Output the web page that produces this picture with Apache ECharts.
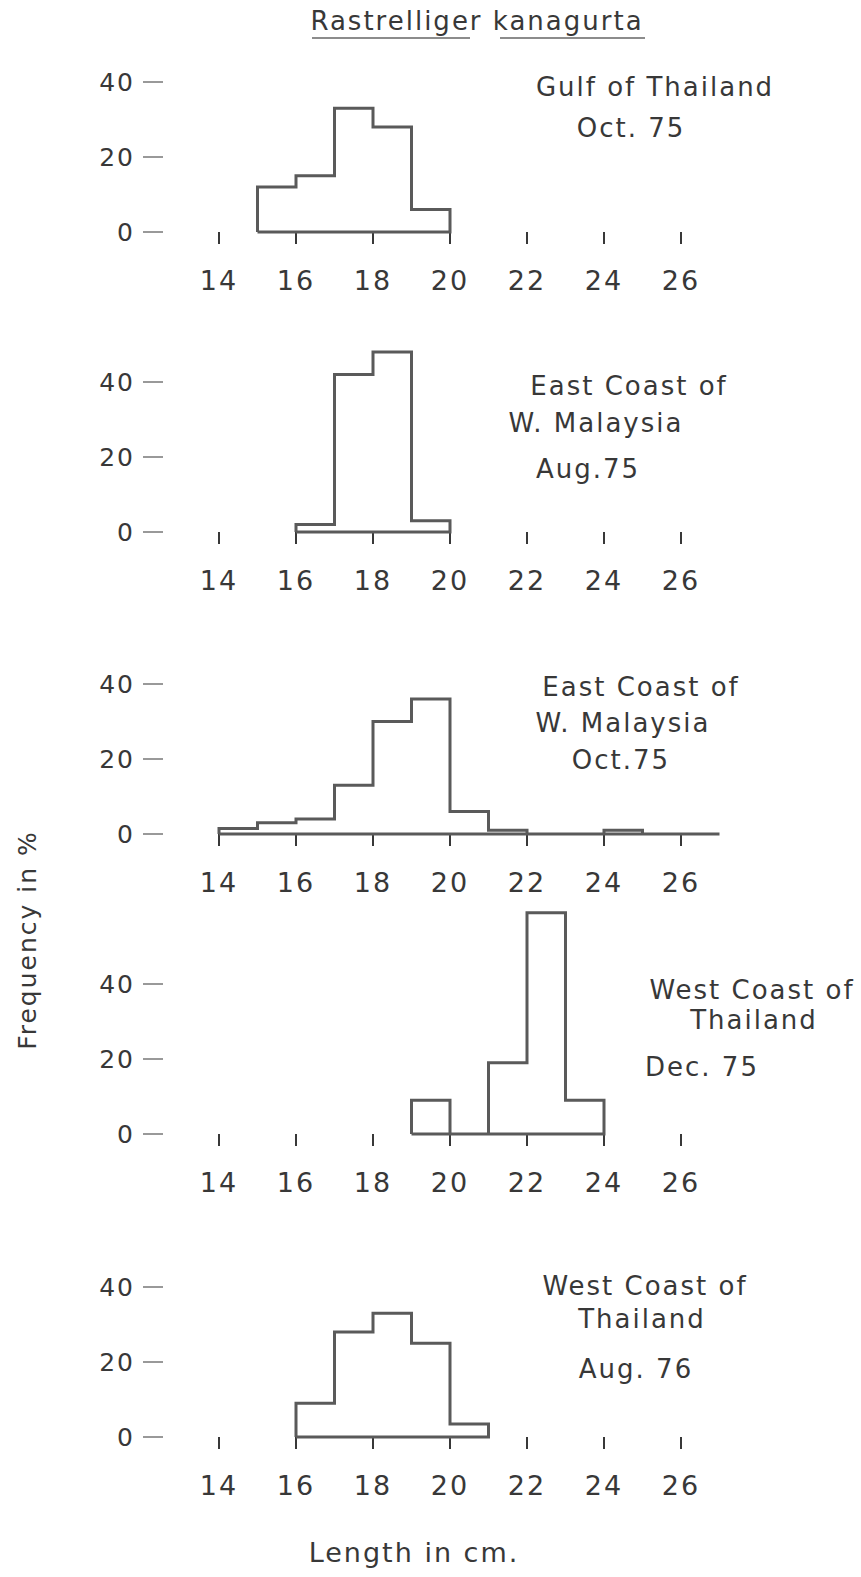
<!DOCTYPE html>
<html>
<head>
    <title>Rastrelliger kanagurta</title>
    <script src="https://cdn.jsdelivr.net/npm/echarts@6.0.0/dist/echarts.min.js"></script>
    <style>
        body { margin: 0; background: #fff; }
        #chartContainer { width: 861px; height: 1577px; }
        /* 原图是手写字模，字距较宽 */
        #chartContainer text { letter-spacing: 2px; }
    </style>
</head>
<body>
    <div id="chartContainer"></div>

    <script>
        // 体长刻度（cm）与频率刻度（%）
        const lengthTicks = [14, 16, 18, 20, 22, 24, 26];
        const freqTicks = [0, 20, 40];

        // 各样本的第一个体长组（cm），每组宽 1 cm
        const gulfOct75Start = 15;
        const eastAug75Start = 16;
        const eastOct75Start = 14;
        const westDec75Start = 19;
        const westAug76Start = 16;

        // 各组频率（%）
        const gulfOct75 = [12, 15, 33, 28, 6];
        const eastAug75 = [2, 42, 48, 3];
        const eastOct75 = [1.5, 3, 4, 13, 30, 36, 6, 1, 0, 0, 1, 0, 0];
        const westDec75 = [9, 0, 19, 59, 9];
        const westAug76 = [9, 28, 33, 25, 3.5];

        // 图注（每行一条）
        const panelLabels = [
            ['Gulf of Thailand', 'Oct. 75'],
            ['East Coast of', 'W. Malaysia', 'Aug.75'],
            ['East Coast of', 'W. Malaysia', 'Oct.75'],
            ['West Coast of', 'Thailand', 'Dec. 75'],
            ['West Coast of', 'Thailand', 'Aug. 76']
        ];

        const panels = [
            { start: gulfOct75Start, freq: gulfOct75 },
            { start: eastAug75Start, freq: eastAug75 },
            { start: eastOct75Start, freq: eastOct75 },
            { start: westDec75Start, freq: westDec75 },
            { start: westAug76Start, freq: westAug76 }
        ];

        // 版面：每个小图 0 刻度所在的 y 位置，以及图注的位置
        const zeroY = [232, 532, 834, 1134, 1437];
        const labelPos = [
            [[655, 87], [631, 128]],
            [[629, 386], [596, 423], [588, 469]],
            [[641, 687], [623, 723], [621, 760]],
            [[752, 990], [754, 1020], [702, 1067]],
            [[645, 1286], [642, 1319], [636, 1369]]
        ];

        const ink = '#383838';
        const font = 'DejaVu Sans';
        const pxPerUnit = 3.75;   // 1% 对应的像素
        const yMax = 60;

        // 直方图外轮廓：沿各组顶边走一遍，再沿底边回到起点
        function outline(start, freq) {
            const pts = [[start, 0]];
            freq.forEach((v, i) => {
                pts.push([start + i, v]);
                pts.push([start + i + 1, v]);
            });
            pts.push([start + freq.length, 0]);
            pts.push([start, 0]);
            return pts;
        }

        const chart = echarts.init(document.getElementById('chartContainer'), null, { renderer: 'svg' });

        const grid = zeroY.map(z => ({
            left: 219,
            width: 13 * 38.5,
            top: z - yMax * pxPerUnit,
            height: yMax * pxPerUnit,
            outerBoundsMode: 'none'
        }));

        const xAxis = zeroY.map((z, i) => ({
            type: 'value',
            gridIndex: i,
            min: 14,
            max: 27,
            offset: 14,
            axisLine: { show: false },
            splitLine: { show: false },
            axisTick: {
                show: true,
                length: 12,
                customValues: lengthTicks,
                lineStyle: { color: ink, width: 2 }
            },
            axisLabel: {
                customValues: lengthTicks,
                margin: 21,
                fontSize: 27,
                fontFamily: font,
                color: ink
            }
        }));

        const yAxis = zeroY.map((z, i) => ({
            type: 'value',
            gridIndex: i,
            min: 0,
            max: yMax,
            interval: 20,
            offset: 56,
            axisLine: { show: false },
            splitLine: { show: false },
            axisTick: {
                show: true,
                length: 20,
                customValues: freqTicks,
                lineStyle: { color: '#777', width: 1.5 }
            },
            axisLabel: {
                customValues: freqTicks,
                margin: 28,
                fontSize: 25,
                fontFamily: font,
                color: ink
            }
        }));

        const series = panels.map((p, i) => ({
            type: 'line',
            xAxisIndex: i,
            yAxisIndex: i,
            data: outline(p.start, p.freq),
            symbol: 'none',
            clip: false,
            silent: true,
            lineStyle: { color: '#5a5a5a', width: 3, join: 'miter' }
        }));

        // 图注与标题等文字
        const graphic = [];
        panelLabels.forEach((lines, i) => {
            lines.forEach((t, j) => {
                graphic.push({
                    type: 'text',
                    x: labelPos[i][j][0],
                    y: labelPos[i][j][1],
                    style: {
                        text: t, fontSize: 26, fontFamily: font, fill: ink,
                        textAlign: 'center', textVerticalAlign: 'middle'
                    }
                });
            });
        });
        graphic.push(
            {
                type: 'text', x: 477, y: 21,
                style: {
                    text: 'Rastrelliger kanagurta', fontSize: 26, fontFamily: font, fill: ink,
                    textAlign: 'center', textVerticalAlign: 'middle'
                }
            },
            { type: 'line', shape: { x1: 312, y1: 38, x2: 470, y2: 38 }, style: { stroke: '#666', lineWidth: 1.5 } },
            { type: 'line', shape: { x1: 500, y1: 38, x2: 645, y2: 38 }, style: { stroke: '#666', lineWidth: 1.5 } },
            {
                type: 'text', x: 27, y: 940, rotation: Math.PI / 2,
                style: {
                    text: 'Frequency in %', fontSize: 25, fontFamily: font, fill: ink,
                    textAlign: 'center', textVerticalAlign: 'middle'
                }
            },
            {
                type: 'text', x: 414, y: 1552,
                style: {
                    text: 'Length in cm.', fontSize: 27, fontFamily: font, fill: ink,
                    textAlign: 'center', textVerticalAlign: 'middle'
                }
            }
        );

        chart.setOption({
            animation: false,
            grid: grid,
            xAxis: xAxis,
            yAxis: yAxis,
            series: series,
            graphic: graphic
        });
    </script>
</body>
</html>
